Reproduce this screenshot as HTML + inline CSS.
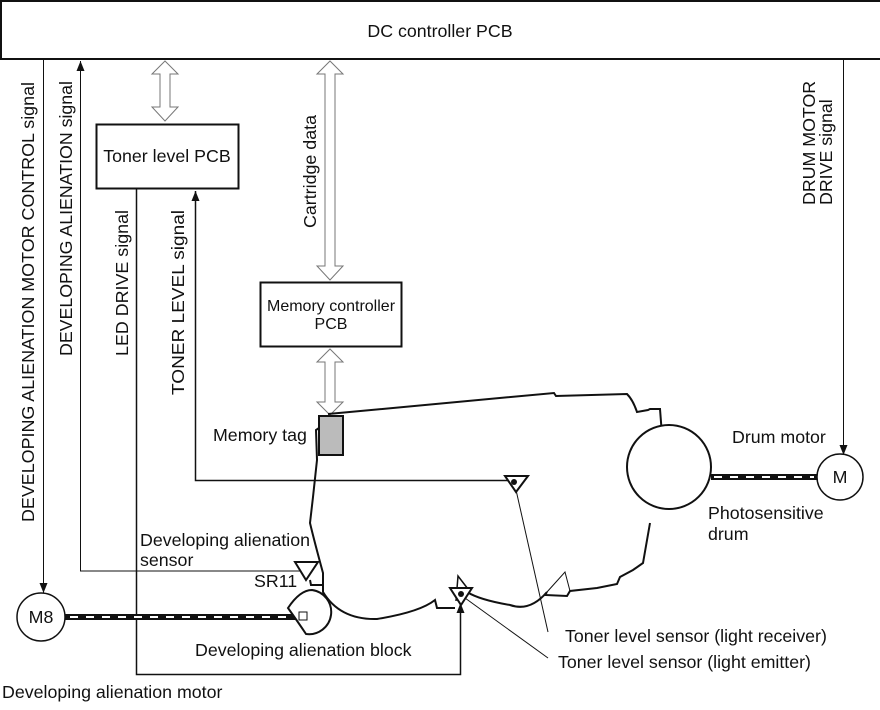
<!DOCTYPE html>
<html><head><style>
body{margin:0;background:#fff}
svg text{font-family:"Liberation Sans",sans-serif;font-size:17.8px;fill:#111}
</style></head><body>
<svg width="880" height="705" viewBox="0 0 880 705" xmlns="http://www.w3.org/2000/svg">
<defs>
<marker id="a" markerWidth="10" markerHeight="8" refX="10" refY="4" orient="auto-start-reverse" markerUnits="userSpaceOnUse" viewBox="0 0 10 8"><path d="M0,0 L10,4 L0,8 Z" fill="#111"/></marker>
</defs>
<rect x="1" y="1" width="882" height="58" fill="#fff" stroke="#111" stroke-width="2"/>
<text x="440" y="37" text-anchor="middle">DC controller PCB</text>

<g fill="#fff" stroke="#777" stroke-width="1">
<path d="M165,61 L178,74 L170,74 L170,107 L178,107 L165,121 L152,107 L160,107 L160,74 L152,74 Z"/>
<path d="M330,61 L343,74 L335,74 L335,266 L343,266 L330,280 L317,266 L325,266 L325,74 L317,74 Z"/>
<path d="M330,349 L343,362 L335,362 L335,402 L343,402 L330,415 L317,402 L325,402 L325,362 L317,362 Z"/>
</g>

<rect x="96.5" y="124.5" width="142" height="64" fill="#fff" stroke="#111" stroke-width="2"/>
<text x="167" y="162" text-anchor="middle">Toner level PCB</text>
<rect x="260.5" y="282.5" width="141" height="64" fill="#fff" stroke="#111" stroke-width="2"/>
<text x="331" y="311" text-anchor="middle" style="font-size:16px">Memory controller</text>
<text x="331" y="329" text-anchor="middle" style="font-size:16px">PCB</text>

<g stroke="#111" stroke-width="1" fill="none">
<line x1="43.5" y1="59" x2="43.5" y2="593" marker-end="url(#a)"/>
<path d="M80.5,61 L80.5,571 L305,571" marker-start="url(#a)"/>
<path d="M136.5,189 L136.5,674.5 L460.5,674.5 L460.5,603" stroke-width="1.5" marker-end="url(#a)"/>
<path d="M195.5,191 L195.5,480.5 L510,480.5" stroke-width="1.5" marker-start="url(#a)"/>
<line x1="843.5" y1="59" x2="843.5" y2="455" marker-end="url(#a)"/>
<line x1="514" y1="481" x2="548" y2="632"/>
<line x1="465" y1="598" x2="548" y2="658"/>
<path d="M547,592 L565,572 L570,591"/>
</g>

<path d="M328,414 L554,393 L556,396 L627,394 Q633,400 637,412 L648,410 L650,409 L660,409 L662,435 M650,523 L643,563 L633,570 L620,577 L617,584 L597,588 L570,591 L567,596 L545,595 L547,592 Q530,612 510,605 Q480,600 467,592 M455,608 L437,608 L435,600 Q420,612 377,619 Q340,620 323,592 L323,573 Q314,540 310,523 L313,497 L317,460 L316,430 L319,428" fill="none" stroke="#111" stroke-width="2"/>
<path d="M310,580 L311,585 L322,585" fill="none" stroke="#111" stroke-width="2"/>

<rect x="319" y="416" width="24" height="39" fill="#bbb" stroke="#111" stroke-width="2"/>

<circle cx="669" cy="467" r="42" fill="#fff" stroke="#111" stroke-width="2"/>
<circle cx="840" cy="477" r="23" fill="#fff" stroke="#111" stroke-width="1.5"/>
<text x="840" y="483" text-anchor="middle">M</text>
<line x1="711" y1="477" x2="817" y2="477" stroke="#111" stroke-width="6"/>
<line x1="714" y1="477" x2="814" y2="477" stroke="#fff" stroke-width="2" stroke-dasharray="8,8"/>

<circle cx="41" cy="617" r="24" fill="#fff" stroke="#111" stroke-width="1.5"/>
<text x="41" y="623" text-anchor="middle">M8</text>
<line x1="65" y1="617" x2="298" y2="617" stroke="#111" stroke-width="6"/>
<line x1="70" y1="617" x2="296" y2="617" stroke="#fff" stroke-width="2" stroke-dasharray="8,8"/>
<path d="M288,608 Q300,590 312,590 A22,22 0 1 1 306,634 Q298,622 288,608 Z" fill="#fff" stroke="#111" stroke-width="2"/>
<rect x="299" y="612" width="8" height="8" fill="#fff" stroke="#111" stroke-width="1"/>

<path d="M295,562 L318,562 L306,580 Z" fill="#fff" stroke="#111" stroke-width="2"/>
<path d="M505,476 L528,476 L516,492 Z" fill="#fff" stroke="#111" stroke-width="2"/>
<circle cx="514" cy="482" r="3" fill="#111"/>
<path d="M456,601 L458,576 L468,589" fill="none" stroke="#111" stroke-width="1.5"/>
<path d="M450,588 L472,588 L461,605 Z" fill="#fff" stroke="#111" stroke-width="2"/>
<circle cx="461" cy="594" r="3" fill="#111"/>

<text transform="translate(34,522) rotate(-90)" textLength="440" lengthAdjust="spacingAndGlyphs">DEVELOPING ALIENATION MOTOR CONTROL signal</text>
<text transform="translate(72,356) rotate(-90)" textLength="275" lengthAdjust="spacingAndGlyphs">DEVELOPING ALIENATION signal</text>
<text transform="translate(128,356) rotate(-90)" textLength="146" lengthAdjust="spacingAndGlyphs">LED DRIVE signal</text>
<text transform="translate(184,395) rotate(-90)" textLength="185" lengthAdjust="spacingAndGlyphs">TONER LEVEL signal</text>
<text transform="translate(316,228) rotate(-90)" textLength="113" lengthAdjust="spacingAndGlyphs">Cartridge data</text>
<text transform="translate(815,205) rotate(-90)">DRUM MOTOR</text>
<text transform="translate(832,205) rotate(-90)">DRIVE signal</text>
<text x="213" y="441">Memory tag</text>
<text x="732" y="443">Drum motor</text>
<text x="708" y="519">Photosensitive</text>
<text x="708" y="540">drum</text>
<text x="140" y="546">Developing alienation</text>
<text x="140" y="566">sensor</text>
<text x="254" y="587">SR11</text>
<text x="195" y="656">Developing alienation block</text>
<text x="2" y="698">Developing alienation motor</text>
<text x="565" y="642">Toner level sensor (light receiver)</text>
<text x="558" y="668">Toner level sensor (light emitter)</text>
</svg>
</body></html>
